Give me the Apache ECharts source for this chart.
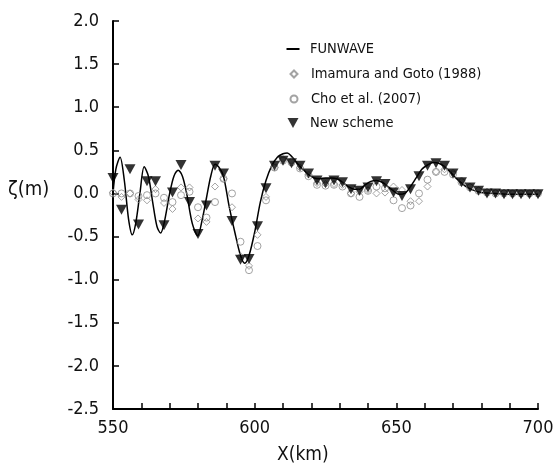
<!DOCTYPE html>
<html>
<head>
<meta charset="utf-8">
<script src="https://cdn.jsdelivr.net/npm/echarts@6/dist/echarts.min.js"></script>
<style>html,body{margin:0;padding:0;background:#fff}#c{width:557px;height:465px}</style>
</head>
<body>
<div id="c"></div>
<script>
// ---- data ----
var funwaveX = [550,551,552.5,554,555.5,556.8,558,559.5,561,562.5,564,565.5,566.8,568,570,571.5,573,574.5,576,578,579.9,581.5,583,584.5,586,587.5,589,591,593,595,596.5,598,600,602,604,606,608,610,611.5,613,615,617,619,621,623,625,627,629,631,633,635,637,639,641,643,645,647,649,651,653,655,657,659,661,663,665,667,669,671,673,675,677,680,685,690,700];
var funwaveY = [0.0,0.28,0.42,0.15,-0.3,-0.48,-0.35,0.0,0.31,0.2,-0.1,-0.38,-0.46,-0.35,0.0,0.2,0.27,0.2,0.0,-0.35,-0.49,-0.3,-0.05,0.2,0.34,0.3,0.2,-0.15,-0.45,-0.72,-0.81,-0.72,-0.45,-0.1,0.15,0.32,0.42,0.46,0.47,0.43,0.35,0.28,0.22,0.18,0.17,0.18,0.18,0.17,0.13,0.08,0.05,0.05,0.1,0.14,0.15,0.13,0.08,0.03,-0.01,0.0,0.08,0.18,0.28,0.33,0.36,0.35,0.31,0.25,0.18,0.12,0.07,0.04,0.01,0.0,-0.01,-0.01];

var sampleX = [550,553,556,559,562,565,568,571,574,577,580,583,586,589,592,595,598,601,604,607,610,613,616,619,622,625,628,631,634,637,640,643,646,649,652,655,658,661,664,667,670,673,676,679,682,685,688,691,694,697,700];
var imamuraY = [0.01,-0.04,0.0,-0.07,-0.08,0.05,-0.11,-0.18,0.07,0.07,-0.29,-0.33,0.08,0.17,-0.16,-0.73,-0.84,-0.48,-0.04,0.30,0.40,0.38,0.30,0.22,0.12,0.11,0.11,0.10,0.0,0.02,0.04,0.0,0.01,0.08,0.04,-0.09,-0.09,0.08,0.25,0.28,0.24,0.15,0.08,0.04,0.02,0.01,0.01,0.0,0.0,0.0,0.0];
var choY = [0.0,0.0,0.0,-0.03,-0.02,0.0,-0.05,-0.10,-0.02,0.02,-0.16,-0.28,-0.10,0.17,0.0,-0.56,-0.89,-0.61,-0.08,0.30,0.38,0.36,0.29,0.20,0.10,0.09,0.10,0.08,0.0,-0.04,0.03,0.08,0.06,-0.08,-0.17,-0.14,0.0,0.16,0.25,0.25,0.22,0.13,0.07,0.03,0.01,0.0,0.0,0.0,0.0,0.0,0.0];
var newSchemeY = [0.18,-0.19,0.28,-0.36,0.14,0.14,-0.37,0.01,0.33,-0.10,-0.47,-0.14,0.32,0.23,-0.32,-0.77,-0.76,-0.38,0.06,0.32,0.38,0.35,0.32,0.23,0.15,0.12,0.15,0.13,0.05,0.03,0.07,0.14,0.11,0.01,-0.03,0.05,0.20,0.32,0.35,0.32,0.23,0.13,0.07,0.03,0.0,0.0,-0.01,-0.01,-0.01,-0.01,-0.01];

var seriesNames = ['FUNWAVE','Imamura and Goto (1988)','Cho et al. (2007)','New scheme'];
var xTitle = 'X(km)';
var yTitle = '\u03B6(m)';

function pairs(xs, ys){ return xs.map(function(x,i){ return [x, ys[i]]; }); }

var FONT = '"DejaVu Sans Condensed","Liberation Sans","DejaVu Sans",sans-serif';
var gray = '#8c8c8c';

var chart = echarts.init(document.getElementById('c'), null, {renderer:'canvas'});

function legendAt(name, top, icon, w, h, left, pad){
  return {
    orient:'vertical', left:left, top:top, itemWidth:w, itemHeight:h,
    symbolKeepAspect:true,
    data:[{name:name, icon:icon}],
    textStyle:{fontFamily:FONT, fontSize:14.5, color:'#111', lineHeight:16, padding:[0,0,0,pad]},
    itemGap:0, padding:0, selectedMode:false
  };
}

chart.setOption({
  animation:false,
  backgroundColor:'#fff',
  grid:{left:113, right:19, top:21, bottom:56, containLabel:false},
  legend:[
    legendAt(seriesNames[0], 41, 'path://M0,0 L13,0 L13,2 L0,2 Z', 13, 2, 286.5, 5.5),
    legendAt(seriesNames[1], 66, 'diamond', 7, 7, 289.5, 8.5),
    legendAt(seriesNames[2], 91, 'circle', 7, 7, 289.5, 8.5),
    legendAt(seriesNames[3], 115, 'path://M0,0 L10,0 L5,9 Z', 11, 10, 287.5, 6.5)
  ],
  xAxis:{
    type:'value', min:550, max:700, interval:10,
    axisLine:{onZero:false, lineStyle:{color:'#000', width:2}},
    axisTick:{inside:true, length:6, lineStyle:{color:'#000', width:1.5}},
    axisLabel:{margin:10, color:'#111', fontFamily:FONT, fontSize:18,
      formatter:function(v){ return v % 50 === 0 ? String(v) : ''; }},
    splitLine:{show:false}
  },
  yAxis:{
    type:'value', min:-2.5, max:2, interval:0.5,
    axisLine:{show:true, onZero:false, lineStyle:{color:'#000', width:2}},
    axisTick:{show:true, inside:true, length:6, lineStyle:{color:'#000', width:1.5}},
    axisLabel:{margin:14, color:'#111', fontFamily:FONT, fontSize:18,
      formatter:function(v){ return v.toFixed(1); }},
    splitLine:{show:false}
  },
  graphic:[
    {type:'text', left:8, top:180, style:{text:yTitle, font:'20px ' + FONT, fill:'#111'}},
    {type:'text', left:277, top:446, style:{text:xTitle, font:'19px ' + FONT, fill:'#111'}}
  ],
  series:[
    {name:seriesNames[0], type:'line', data:pairs(funwaveX, funwaveY), showSymbol:false, symbol:'none',
     smooth:0.3, lineStyle:{color:'#000', width:1.5}, itemStyle:{color:'#000'}, z:2},
    {name:seriesNames[1], type:'scatter', data:pairs(sampleX, imamuraY), symbol:'diamond', symbolSize:7,
     itemStyle:{color:'rgba(255,255,255,0)', borderColor:gray, borderWidth:1}, z:3},
    {name:seriesNames[2], type:'scatter', data:pairs(sampleX, choY), symbol:'circle', symbolSize:7,
     itemStyle:{color:'rgba(255,255,255,0)', borderColor:gray, borderWidth:1}, z:3},
    {name:seriesNames[3], type:'scatter', data:pairs(sampleX, newSchemeY), symbol:'triangle', symbolRotate:180,
     symbolSize:[11,10], itemStyle:{color:'#000'}, z:4}
  ]
});
</script>
</body>
</html>
